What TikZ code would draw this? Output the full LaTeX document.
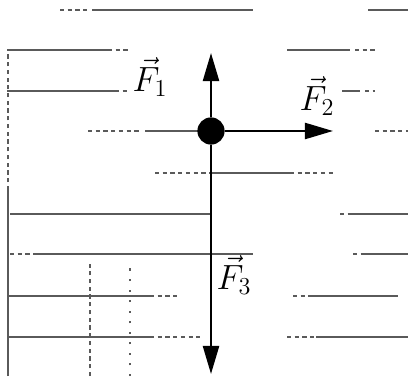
\documentclass[tikz,border=0pt]{standalone}
\usepackage{tikz}
\usetikzlibrary{arrows.meta}
\usepackage{amsmath}
\definecolor{ruling}{RGB}{90,90,90}

\begin{document}
\begin{tikzpicture}[x=0.025cm,y=0.025cm,
    rule/.style={ruling, line width=0.9pt},
    brokenrule/.style={ruling, line width=0.9pt, dash pattern=on 3pt off 2.5pt},
    dotrule/.style={ruling, line width=0.9pt, dash pattern=on 1.5pt off 6pt},
    force/.style={line width=1.6pt, -{Triangle[length=0.7cm, width=0.4cm]}},
    mass/.style={circle, fill=black, inner sep=0pt, minimum size=0.68cm},
    flabel/.style={font=\huge, inner sep=0pt, scale=1.2, transform shape}]

\useasboundingbox (0,0) rectangle (408,376);

%---------------------------------------
% Ruled paper in the background
%---------------------------------------
\foreach \y/\xa/\xb in {366/92/253, 366/368/408, 326/7/108, 326/287/350,
    285/7/115, 285/342/360, 245/145/200, 203/210/290,
    162/10/211, 162/348/408, 122/37/253, 122/364/408,
    80/9/150, 80/312/398, 39/9/150, 39/316/408}
  \draw[rule] (\xa,\y) -- (\xb,\y);

\foreach \y/\xa/\xb in {366/60/90, 326/108/130, 326/355/375,
    285/115/130, 285/365/375, 245/88/140, 245/375/408,
    203/155/210, 203/290/335, 162/340/348, 122/10/37, 122/353/364,
    80/150/178, 80/293/312, 39/150/200, 39/287/316}
  \draw[brokenrule] (\xa,\y) -- (\xb,\y);

% margin lines
\draw[rule] (8,0) -- (8,186);
\draw[brokenrule] (8,186) -- (8,326);
\draw[brokenrule] (90,0) -- (90,113);
\draw[dotrule] (130,0) -- (130,114);

%---------------------------------------
% Body and forces
%---------------------------------------
\node[mass] (m) at (211,245) {};
\coordinate (f1) at (211,323);
\coordinate (f2) at (333,245);
\coordinate (f3) at (211,2);

\draw[force] (m) -- (f1);
\draw[force] (m) -- (f2);
\draw[force] (m) -- (f3);

\node[flabel] (l1) at (150,299) {$\vec{F}_1$};
\node[flabel] (l2) at (317,280) {$\vec{F}_2$};
\node[flabel] (l3) at (234,101) {$\vec{F}_3$};

\end{tikzpicture}
\end{document}
